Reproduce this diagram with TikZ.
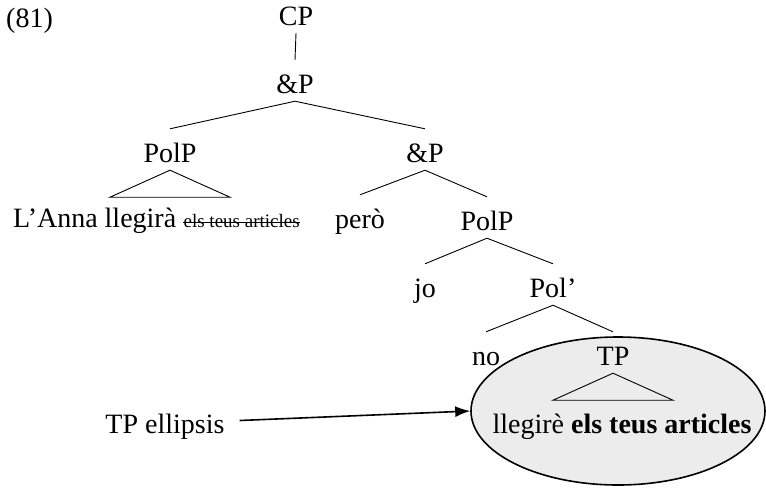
\documentclass[tikz,border=0pt]{standalone}
\usepackage{fontspec}
\setmainfont{Liberation Serif}
\usetikzlibrary{shapes.geometric,arrows.meta}

\tikzset{
  cat/.style={inner sep=0pt, text height=33pt, text depth=8pt, anchor=base,
    font=\fontsize{28}{33}\selectfont},
  branch/.style={line width=0.9pt},
}

\begin{document}
\begin{tikzpicture}[x=1pt,y=-1pt]
\useasboundingbox (0,0) rectangle (766,488);
\node[cat, anchor=base west] (num) at (6,27) {(81)};

\node[ellipse, draw, line width=1.6pt, fill=gray!15, minimum width=294pt, minimum height=148pt] (ell) at (618,411) {};

\node[cat] (cp) at (296,25) {CP};
\node[cat] (andp) at (295,93) {\&P};
\node[cat] (polp) at (170,162) {PolP};
\node[cat] (andbar) at (425,162) {\&P};
\node[cat, anchor=base west] (anna) at (13,227) {L'Anna llegirà};
\node[inner sep=0pt, anchor=base west, font=\fontsize{19}{22}\selectfont] (struck) at ([xshift=7pt]anna.base east) {els teus articles};
\node[cat] (pero) at (360,228) {però};
\node[cat] (polp2) at (487,230) {PolP};
\node[cat] (jo) at (425,297) {jo};
\node[cat] (polbar) at (553,297) {Pol'};
\node[cat] (no) at (486,365) {no};
\node[cat] (tp) at (613,365) {TP};
\node[cat] (arts) at (622,433) {llegirè \textbf{els teus articles}};
\node[cat, inner xsep=15pt] (label) at (165,433) {TP ellipsis};

\draw[branch] (cp.south) -- (andp.north);
\draw[branch] (andp.south) -- (polp.north) (andp.south) -- (andbar.north);
\draw[branch] (andbar.south) -- (pero.north) (andbar.south) -- (polp2.north);
\draw[branch] (polp2.south) -- (jo.north) (polp2.south) -- (polbar.north);
\draw[branch] (polbar.south) -- (no.north) (polbar.south) -- (tp.north);

% triangles
\draw[branch] (polp.south) -- ++(-60,27) -- ++(120,0) -- cycle;
\draw[branch] (tp.south) -- ++(-60,27) -- ++(120,0) -- cycle;

% strike-through
\draw[line width=0.8pt] ([yshift=4.5pt]struck.base west) -- ([yshift=4.5pt]struck.base east);

\draw[-{Latex[length=15pt,width=11pt]}, line width=1.6pt] (label.east) -- (ell.west);
\end{tikzpicture}
\end{document}
